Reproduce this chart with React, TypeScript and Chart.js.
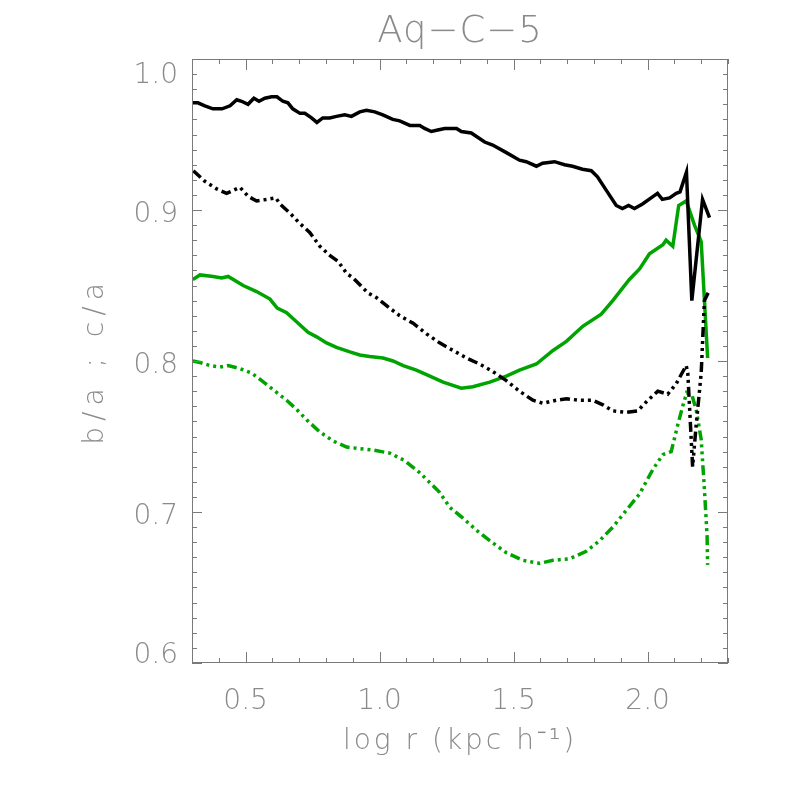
import React, { useEffect, useRef } from "react";
import { Chart, registerables } from "chart.js";
Chart.register(...registerables);

const titleText = "Aq\u2212C\u22125";
const xTitle = "log r (kpc h\u207B\u00B9)";
const yTitle = "b/a ; c/a";
const xTickValues = [0.5, 1.0, 1.5, 2.0];
const yTickValues = [0.6, 0.7, 0.8, 0.9, 1.0];

// black, b/a (solid)
const blackBA_x = [0.303, 0.322, 0.348, 0.378, 0.412, 0.442, 0.467, 0.485, 0.509, 0.531, 0.55, 0.572, 0.597, 0.617, 0.639, 0.658, 0.676, 0.703, 0.721, 0.746, 0.766, 0.788, 0.814, 0.839, 0.87, 0.895, 0.926, 0.951, 0.982, 1.012, 1.049, 1.075, 1.113, 1.15, 1.168, 1.193, 1.217, 1.243, 1.287, 1.305, 1.342, 1.392, 1.422, 1.473, 1.522, 1.547, 1.585, 1.608, 1.653, 1.69, 1.72, 1.757, 1.79, 1.813, 1.846, 1.883, 1.906, 1.929, 1.951, 1.981, 2.013, 2.037, 2.055, 2.082, 2.107, 2.121, 2.145, 2.165, 2.205, 2.231];
const blackBA_y = [0.971, 0.971, 0.969, 0.967, 0.967, 0.969, 0.973, 0.972, 0.97, 0.974, 0.972, 0.974, 0.975, 0.975, 0.972, 0.971, 0.967, 0.964, 0.964, 0.961, 0.958, 0.961, 0.961, 0.962, 0.963, 0.962, 0.965, 0.966, 0.965, 0.963, 0.96, 0.959, 0.956, 0.956, 0.954, 0.952, 0.953, 0.954, 0.954, 0.952, 0.951, 0.945, 0.943, 0.938, 0.933, 0.932, 0.929, 0.931, 0.932, 0.93, 0.929, 0.927, 0.926, 0.922, 0.913, 0.903, 0.901, 0.903, 0.901, 0.904, 0.908, 0.911, 0.907, 0.908, 0.911, 0.912, 0.925, 0.84, 0.907, 0.895];

// black, c/a (dash-dot-dot-dot)
const blackCA_x = [0.305, 0.348, 0.392, 0.429, 0.479, 0.51, 0.541, 0.578, 0.613, 0.628, 0.665, 0.703, 0.74, 0.777, 0.814, 0.845, 0.877, 0.901, 0.957, 0.988, 1.038, 1.075, 1.125, 1.175, 1.224, 1.274, 1.324, 1.373, 1.423, 1.473, 1.522, 1.572, 1.609, 1.659, 1.697, 1.746, 1.796, 1.833, 1.87, 1.92, 1.963, 2.001, 2.038, 2.075, 2.107, 2.144, 2.15, 2.168, 2.181, 2.2, 2.212, 2.231];
const blackCA_y = [0.926, 0.919, 0.914, 0.911, 0.915, 0.909, 0.906, 0.907, 0.908, 0.904, 0.898, 0.891, 0.885, 0.876, 0.87, 0.866, 0.858, 0.855, 0.845, 0.842, 0.835, 0.83, 0.825, 0.818, 0.812, 0.807, 0.802, 0.798, 0.793, 0.787, 0.78, 0.774, 0.772, 0.774, 0.775, 0.774, 0.774, 0.771, 0.767, 0.766, 0.767, 0.774, 0.78, 0.778, 0.785, 0.797, 0.792, 0.73, 0.757, 0.792, 0.84, 0.847];

// green, b/a (solid)
const greenBA_x = [0.303, 0.33, 0.379, 0.411, 0.435, 0.491, 0.541, 0.591, 0.618, 0.653, 0.69, 0.733, 0.765, 0.802, 0.839, 0.889, 0.926, 0.963, 1.013, 1.05, 1.088, 1.137, 1.175, 1.237, 1.305, 1.348, 1.411, 1.473, 1.522, 1.585, 1.647, 1.697, 1.758, 1.827, 1.87, 1.932, 1.97, 2.007, 2.057, 2.069, 2.094, 2.116, 2.144, 2.175, 2.2, 2.224];
const greenBA_y = [0.854, 0.857, 0.856, 0.855, 0.856, 0.85, 0.846, 0.841, 0.835, 0.832, 0.826, 0.819, 0.816, 0.812, 0.809, 0.806, 0.804, 0.803, 0.802, 0.8, 0.797, 0.794, 0.791, 0.786, 0.782, 0.783, 0.786, 0.79, 0.794, 0.798, 0.807, 0.813, 0.823, 0.831, 0.84, 0.854, 0.861, 0.871, 0.877, 0.88, 0.876, 0.903, 0.906, 0.89, 0.879, 0.802];

// green, c/a (dash-dot-dot-dot)
const greenCA_x = [0.303, 0.33, 0.367, 0.404, 0.435, 0.479, 0.523, 0.56, 0.603, 0.653, 0.69, 0.728, 0.777, 0.827, 0.877, 0.926, 0.976, 1.038, 1.094, 1.15, 1.224, 1.262, 1.311, 1.361, 1.411, 1.473, 1.535, 1.597, 1.647, 1.709, 1.771, 1.821, 1.87, 1.92, 1.97, 2.019, 2.057, 2.088, 2.113, 2.131, 2.146, 2.166, 2.181, 2.2, 2.212, 2.222, 2.224];
const greenCA_y = [0.8, 0.799, 0.797, 0.796, 0.797, 0.795, 0.792, 0.787, 0.781, 0.774, 0.768, 0.761, 0.753, 0.747, 0.743, 0.742, 0.741, 0.739, 0.734, 0.726, 0.713, 0.703, 0.696, 0.688, 0.681, 0.673, 0.668, 0.666, 0.668, 0.669, 0.674, 0.681, 0.69, 0.701, 0.712, 0.728, 0.738, 0.74, 0.758, 0.77, 0.779, 0.777, 0.768, 0.748, 0.715, 0.684, 0.665];

const BLACK = "#000000";
const GREEN = "#00a400";
const TEXT = "#8a8a8a";
const AXIS = "#7a7a7a";
const FONT = "'DejaVu Sans'";
const DASH = [10, 4, 3, 4, 3, 4, 3, 4];

const pts = (xs: number[], ys: number[]) => xs.map((x, i) => ({ x, y: ys[i] }));

const framePlugin = {
  id: "frameAndText",
  afterDraw(chart: any) {
    const { ctx, chartArea: a, scales } = chart;
    const xs = scales.x;
    const ys = scales.y;
    ctx.save();
    ctx.strokeStyle = AXIS;
    ctx.lineWidth = 1;
    ctx.strokeRect(a.left + 0.5, a.top + 0.5, a.right - a.left - 1, a.bottom - a.top - 1);
    ctx.beginPath();
    for (let i = 3; i <= 23; i++) {
      const v = i / 10;
      const px = Math.round(xs.getPixelForValue(v)) + 0.5;
      const len = i % 5 === 0 ? 11 : 5;
      ctx.moveTo(px, a.bottom);
      ctx.lineTo(px, a.bottom - len);
      ctx.moveTo(px, a.top);
      ctx.lineTo(px, a.top + len);
    }
    for (let i = 60; i <= 100; i++) {
      const v = i / 100;
      const py = Math.round(ys.getPixelForValue(v)) + 0.5;
      const len = i % 10 === 0 ? 10 : 5;
      ctx.moveTo(a.left, py);
      ctx.lineTo(a.left + len, py);
      ctx.moveTo(a.right, py);
      ctx.lineTo(a.right - len, py);
    }
    ctx.stroke();

    ctx.fillStyle = TEXT;
    ctx.font = `200 28px ${FONT}`;
    ctx.textAlign = "right";
    ctx.textBaseline = "alphabetic";
    yTickValues.forEach((v) => {
      let base = ys.getPixelForValue(v) + 12;
      if (base > a.bottom) base = a.bottom;
      if (base < a.top + 24) base = a.top + 24;
      ctx.fillText(v.toFixed(1), a.left - 14, base);
    });

    ctx.textAlign = "center";
    const cx = (a.left + a.right) / 2;
    ctx.font = `200 37px ${FONT}`;
    (ctx as any).letterSpacing = "1px";
    ctx.fillText(titleText, cx, 42);
    ctx.font = `200 28px ${FONT}`;
    (ctx as any).letterSpacing = "3px";
    ctx.fillText(xTitle, cx, 749);
    ctx.translate(103, (a.top + a.bottom) / 2);
    ctx.rotate(-Math.PI / 2);
    (ctx as any).letterSpacing = "6px";
    ctx.fillText(yTitle, 0, 0);
    ctx.restore();
  },
};

export default function App() {
  const ref = useRef<HTMLCanvasElement>(null);
  useEffect(() => {
    if (!ref.current) return;
    const lineDs = (data: any, color: string, dash: number[]) => ({
      data,
      borderColor: color,
      backgroundColor: color,
      borderWidth: 3.5,
      borderDash: dash,
      pointRadius: 0,
      tension: 0,
      fill: false,
    });
    const chart = new Chart(ref.current, {
      type: "line",
      data: {
        datasets: [
          lineDs(pts(blackBA_x, blackBA_y), BLACK, []),
          lineDs(pts(blackCA_x, blackCA_y), BLACK, DASH),
          lineDs(pts(greenBA_x, greenBA_y), GREEN, []),
          lineDs(pts(greenCA_x, greenCA_y), GREEN, DASH),
        ],
      },
      plugins: [framePlugin],
      options: {
        animation: false,
        responsive: false,
        devicePixelRatio: 1,
        layout: { padding: { left: 0, right: 58, top: 59, bottom: 0 } },
        plugins: { legend: { display: false }, tooltip: { enabled: false }, title: { display: false } },
        scales: {
          x: {
            type: "linear",
            min: 0.3,
            max: 2.3,
            grid: { display: false, drawTicks: false },
            border: { display: false },
            afterBuildTicks: (s: any) => {
              s.ticks = xTickValues.map((v) => ({ value: v }));
            },
            afterFit: (s: any) => {
              s.height = 123;
            },
            ticks: {
              color: TEXT,
              padding: 22,
              maxRotation: 0,
              font: { family: "DejaVu Sans", size: 28, weight: "200" as any },
              callback: (v: any) => Number(v).toFixed(1),
            },
          },
          y: {
            type: "linear",
            min: 0.6,
            max: 1.0,
            grid: { display: false, drawTicks: false },
            border: { display: false },
            afterBuildTicks: (s: any) => {
              s.ticks = yTickValues.map((v) => ({ value: v }));
            },
            afterFit: (s: any) => {
              s.width = 192;
            },
            ticks: { display: false },
          },
        },
      },
    });
    return () => chart.destroy();
  }, []);
  return (
    <div style={{ position: "fixed", left: 0, top: 0, width: 786, height: 786, background: "#fff" }}>
      <canvas ref={ref} width={786} height={786} style={{ width: 786, height: 786 }} />
    </div>
  );
}
